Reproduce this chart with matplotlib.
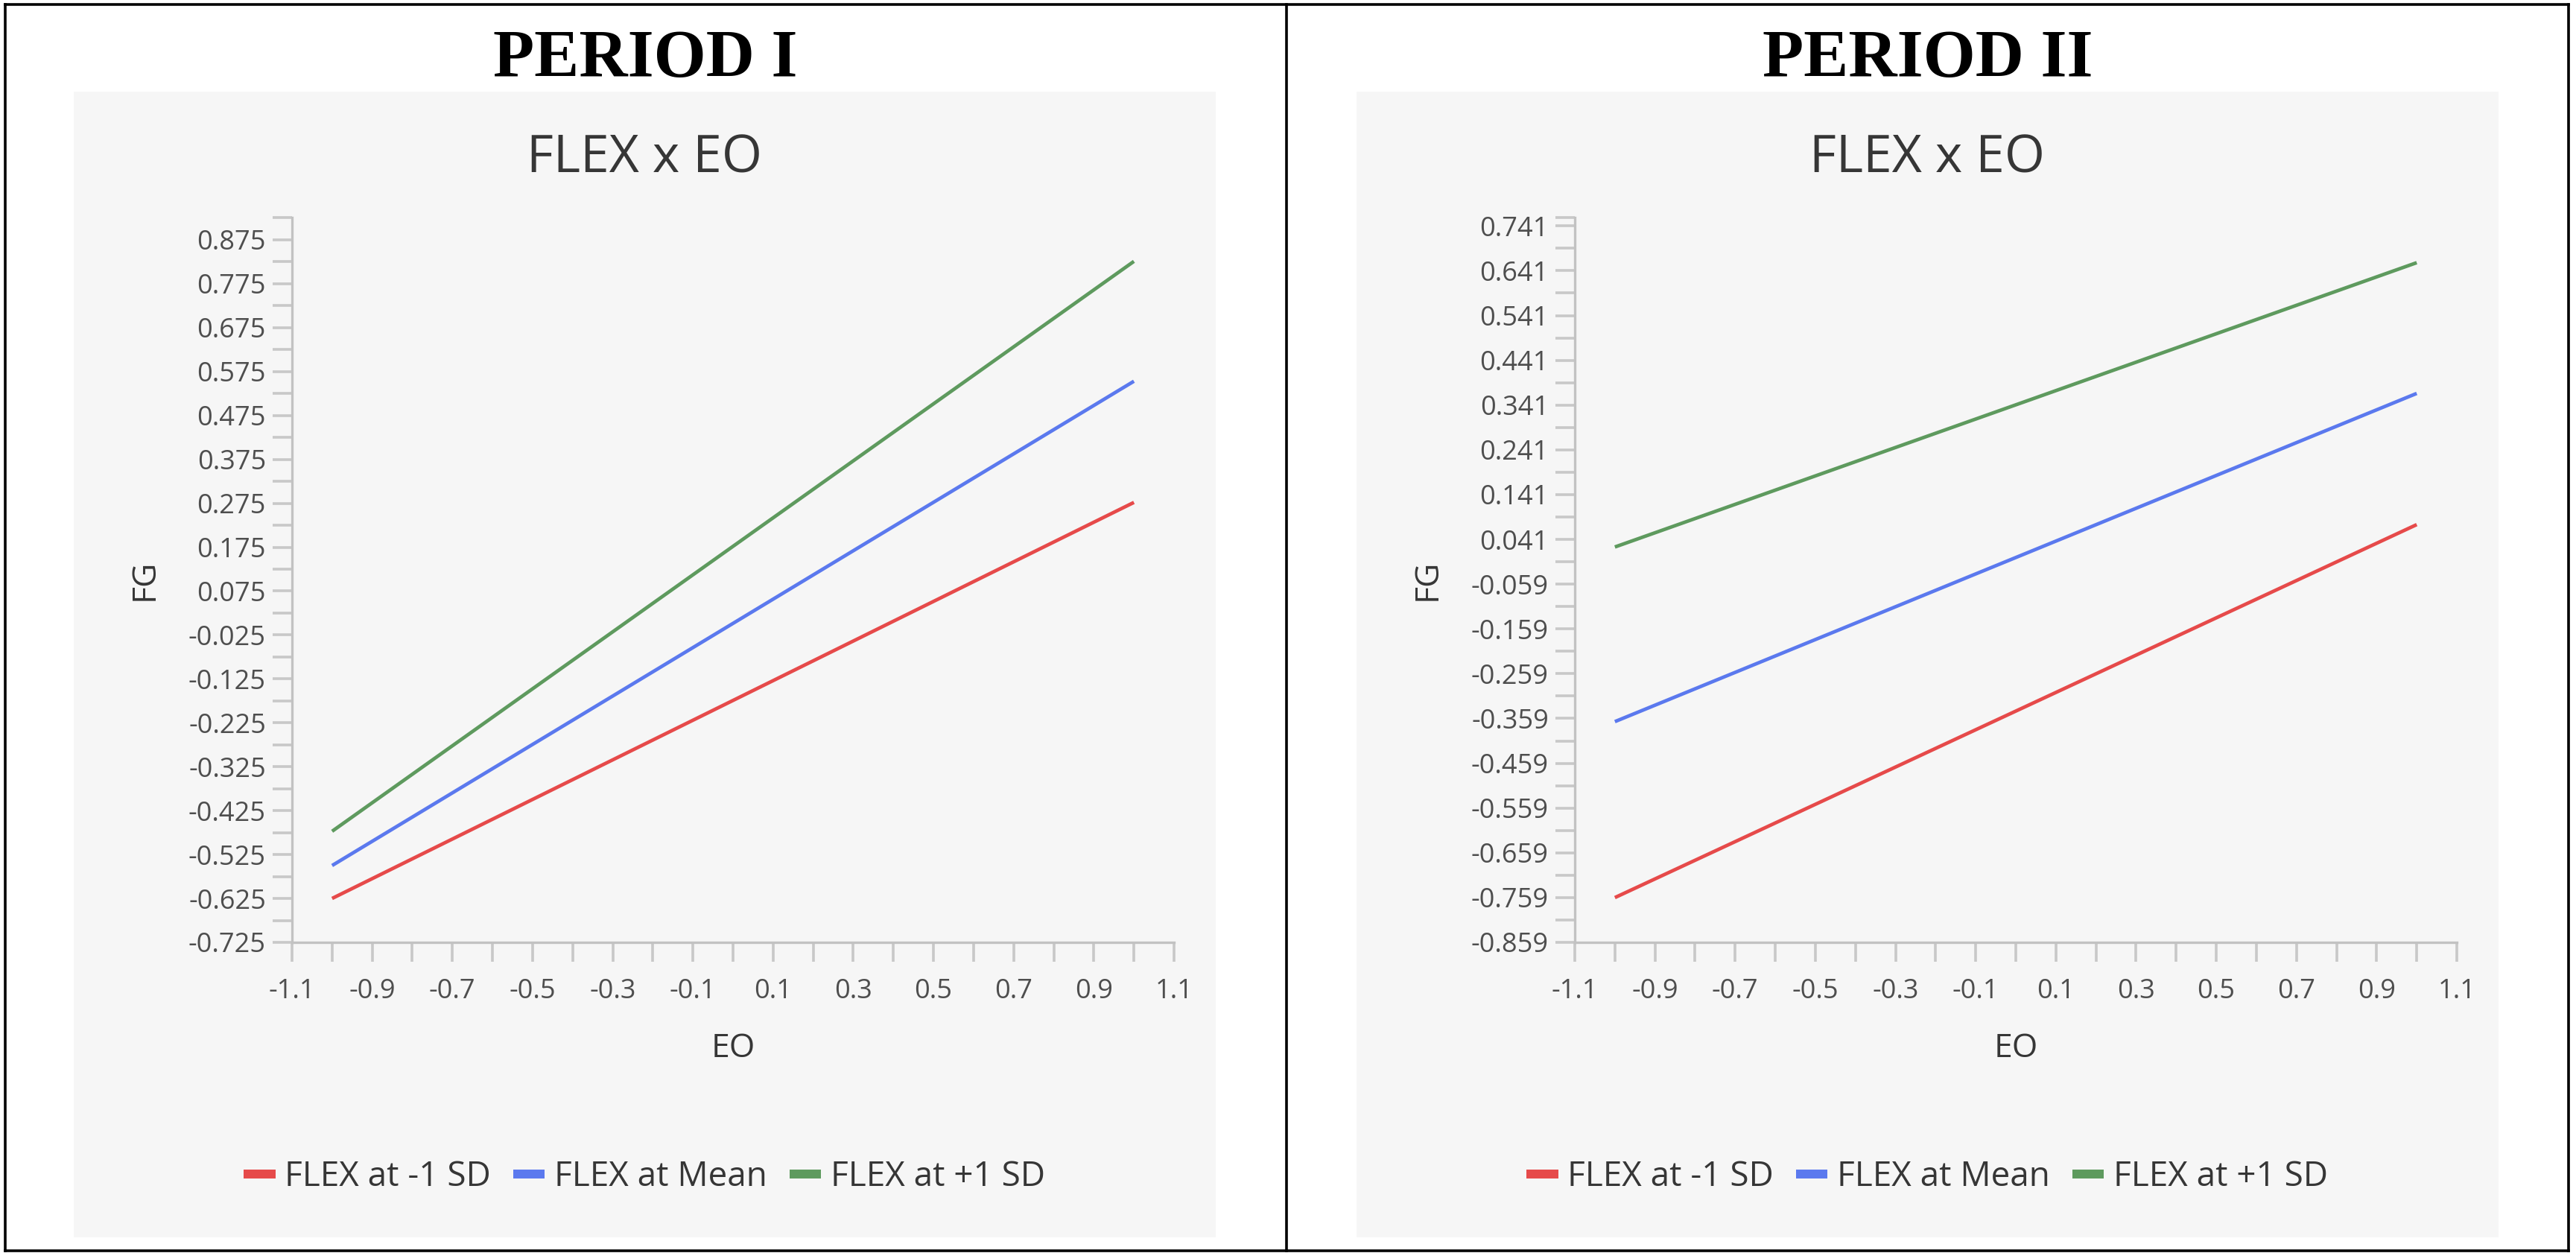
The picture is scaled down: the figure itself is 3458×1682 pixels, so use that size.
import numpy as np
import matplotlib
matplotlib.use('Agg')
import matplotlib.pyplot as plt
from matplotlib.lines import Line2D
from matplotlib.patches import Rectangle

# ---- data ----
eo_x = [-1.0, 1.0]
series_labels = ['FLEX at -1 SD', 'FLEX at Mean', 'FLEX at +1 SD']
series_colors = ['#e64a4a', '#5b79ee', '#5e9a5e']

p1_low = [-0.625, 0.277]
p1_mean = [-0.550, 0.553]
p1_high = [-0.472, 0.826]

p2_low = [-0.759, 0.074]
p2_mean = [-0.366, 0.367]
p2_high = [0.024, 0.659]

p1_ylim = (-0.725, 0.925)
p2_ylim = (-0.859, 0.759)
x_lim = (-1.1, 1.1)

periods = ['PERIOD I', 'PERIOD II']
chart_title = 'FLEX x EO'
x_label = 'EO'
y_label = 'FG'

plt.rcParams['font.family'] = ['Open Sans', 'DejaVu Sans']
plt.rcParams['axes.unicode_minus'] = False

W, H = 3458, 1682
DPI = 200
fig = plt.figure(figsize=(W / DPI, H / DPI), dpi=DPI)
fig.patch.set_facecolor('white')


def fx(px):
    return px / W


def fy(py):
    return 1 - py / H


def draw_panel(dx, period, series, ylim):
    # grey panel background
    fig.add_artist(Rectangle((fx(99 + dx), fy(1661)), (1632 - 99) / W, (1661 - 123) / H,
                             transform=fig.transFigure, facecolor='#f6f6f6',
                             edgecolor='none', zorder=0))
    fig.text(fx(866 + dx), fy(103), period, ha='center', va='baseline',
             family='Liberation Serif', fontweight='bold', fontsize=32.5, color='black')
    fig.text(fx(865 + dx), fy(231.5), chart_title, ha='center', va='baseline',
             fontsize=25, color='#363636')

    ax = fig.add_axes([fx(392 + dx), fy(1265), 1184 / W, 972.5 / H])
    ax.set_facecolor('none')
    for vals, lab, col in zip(series, series_labels, series_colors):
        ax.plot(eo_x, vals, color=col, lw=1.7, label=lab, solid_capstyle='butt')

    ylo, yhi = ylim
    ax.set_xlim(*x_lim)
    ax.set_ylim(ylo, yhi)

    ax.set_xticks(np.round(np.arange(-1.1, 1.11, 0.2), 1))
    ax.set_xticks(np.round(np.arange(-1.0, 1.01, 0.2), 1), minor=True)
    ax.set_xticklabels(['%.1f' % v for v in ax.get_xticks()])

    yt = ylo + 0.1 * np.arange(17)
    ax.set_yticks(yt)
    ax.set_yticklabels(['%.3f' % v for v in yt])
    ym = list(ylo + 0.05 + 0.1 * np.arange(16)) + [yhi]
    ax.set_yticks(ym, minor=True)

    for s in ['top', 'right']:
        ax.spines[s].set_visible(False)
    for s in ['left', 'bottom']:
        ax.spines[s].set_color('#c2c2c2')
        ax.spines[s].set_linewidth(1.2)

    ax.tick_params(which='both', length=9.4, width=1.3, color='#c8c8c8',
                   labelcolor='#4e4e4e', labelsize=13)
    ax.tick_params(axis='x', which='both', pad=8)
    ax.tick_params(axis='y', which='both', pad=3.2)

    ax.set_xlabel(x_label, fontsize=16, color='#363636', va='baseline')
    ax.xaxis.set_label_coords(0.5, (1265 - 1419) / 972.5)
    ax.set_ylabel(y_label, fontsize=16, color='#363636', va='center')
    ax.yaxis.set_label_coords((194 - 392) / 1184, 0.5)

    handles = [Line2D([], [], color=c, lw=4.3, solid_capstyle='butt') for c in series_colors]
    ax.legend(handles, series_labels, loc='center',
              bbox_to_anchor=(fx(865 + dx), fy(1580)), bbox_transform=fig.transFigure,
              ncol=3, frameon=False, fontsize=16.5, handlelength=0.92,
              handletextpad=0.28, columnspacing=0.65, labelcolor='#363636')
    return ax


draw_panel(0, periods[0], [p1_low, p1_mean, p1_high], p1_ylim)
draw_panel(1722, periods[1], [p2_low, p2_mean, p2_high], p2_ylim)

# outer frame and divider
frame_kw = dict(transform=fig.transFigure, color='black', lw=1.3)
for xs, ys in [((7, 3448), (6, 6)), ((7, 3448), (1679, 1679)),
               ((7, 7), (6, 1679)), ((3448, 3448), (6, 1679)),
               ((1727, 1727), (6, 1679))]:
    fig.add_artist(Line2D([fx(x) for x in xs], [fy(y) for y in ys], **frame_kw))

fig.savefig('out.png', dpi=DPI)
